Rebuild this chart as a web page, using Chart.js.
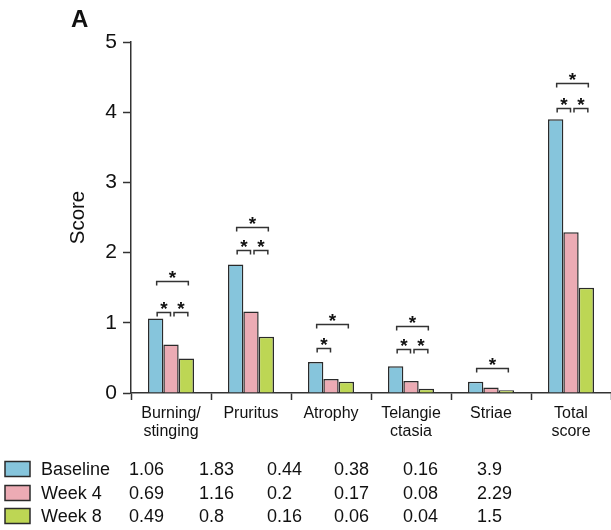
<!DOCTYPE html>
<html>
<head>
<meta charset="utf-8">
<script src="https://cdn.jsdelivr.net/npm/chart.js@4/dist/chart.umd.min.js"></script>
<style>
html,body{margin:0;padding:0;background:#fff;}
#wrap{width:611px;height:530px;position:relative;}
</style>
</head>
<body>
<div id="wrap"><canvas id="c" width="611" height="530"></canvas></div>
<script>
const categories = [["Burning/","stinging"],["Pruritus"],["Atrophy"],["Telangie","ctasia"],["Striae"],["Total","score"]];
const seriesNames = ["Baseline","Week 4","Week 8"];
const baseline = [1.06, 1.83, 0.44, 0.38, 0.16, 3.9];
const week4 = [0.69, 1.16, 0.2, 0.17, 0.08, 2.29];
const week8 = [0.49, 0.8, 0.16, 0.06, 0.04, 1.5];
const tableLabels = [
  ["1.06","1.83","0.44","0.38","0.16","3.9"],
  ["0.69","1.16","0.2","0.17","0.08","2.29"],
  ["0.49","0.8","0.16","0.06","0.04","1.5"]
];
const yTicks = [0,1,2,3,4,5];
// significance brackets: [category index, bar a, bar b, level (score units)]
const brackets = [
  [0,0,1,1.16],[0,1,2,1.16],[0,0,2,1.59],
  [1,0,1,2.03],[1,1,2,2.03],[1,0,2,2.36],
  [2,0,1,0.645],[2,0,2,0.99],
  [3,0,1,0.63],[3,1,2,0.63],[3,0,2,0.96],
  [4,0,2,0.35],
  [5,0,1,4.06],[5,1,2,4.06],[5,0,2,4.42]
];

const colors = ["#86c5dc","#ecabb4","#bdd654"];
const edge = "#2a2a2a";
const FONT = "'Liberation Sans', Arial, sans-serif";

const bracketPlugin = {
  id: 'brackets',
  afterDatasetsDraw(chart) {
    const ctx = chart.ctx;
    const y = chart.scales.y;
    ctx.save();
    ctx.strokeStyle = "#333";
    ctx.lineWidth = 1.5;
    ctx.fillStyle = "#111";
    ctx.font = "bold 19px " + FONT;
    ctx.textAlign = "center";
    ctx.textBaseline = "alphabetic";
    brackets.forEach(([c,a,b,lvl]) => {
      const xa = chart.getDatasetMeta(a).data[c].x;
      const xb = chart.getDatasetMeta(b).data[c].x;
      const big = (b - a) === 2;
      const x1 = big ? xa + 1 : xa + 1.5 + (a===1?1.5:0);
      const x2 = big ? xb + 2 : xb - 0.5 + (a===1?2:0);
      const py = Math.round(y.getPixelForValue(lvl)) + 0.5;
      ctx.beginPath();
      ctx.moveTo(x1, py + 4);
      ctx.lineTo(x1, py);
      ctx.lineTo(x2, py);
      ctx.lineTo(x2, py + 4);
      ctx.stroke();
      ctx.fillText("*", (x1 + x2) / 2, py + 2);
    });
    ctx.restore();
  }
};

const tablePlugin = {
  id: 'table',
  afterDraw(chart) {
    const ctx = chart.ctx;
    ctx.save();
    // panel letter
    ctx.fillStyle = "#111";
    ctx.font = "bold 24px " + FONT;
    ctx.textAlign = "left";
    ctx.textBaseline = "alphabetic";
    ctx.fillText("A", 71, 27);
    const rowsY = [469, 493, 516];
    const colX = [129, 199, 267, 334, 403, 477];
    ctx.font = "18px " + FONT;
    ctx.textBaseline = "middle";
    rowsY.forEach((ry, r) => {
      ctx.fillStyle = colors[r];
      ctx.fillRect(5, ry - 7.5, 25, 15);
      ctx.strokeStyle = edge;
      ctx.lineWidth = 1.5;
      ctx.strokeRect(5, ry - 7.5, 25, 15);
      ctx.fillStyle = "#111";
      ctx.fillText(seriesNames[r], 41, ry + 1);
      tableLabels[r].forEach((t, i) => ctx.fillText(t, colX[i], ry + 1));
    });
    ctx.restore();
  }
};

const data = {
  labels: categories,
  datasets: [baseline, week4, week8].map((d, i) => ({
    label: seriesNames[i],
    data: d,
    backgroundColor: colors[i],
    borderColor: edge,
    borderWidth: 1.5,
    barPercentage: 1,
    categoryPercentage: 0.575
  }))
};

new Chart(document.getElementById('c'), {
  type: 'bar',
  data,
  plugins: [bracketPlugin, tablePlugin],
  options: {
    responsive: false,
    devicePixelRatio: 1,
    animation: false,
    layout: { padding: { top: 42, left: 0, right: 0, bottom: 0 } },
    plugins: { legend: { display: false }, tooltip: { enabled: false } },
    scales: {
      x: {
        offset: true,
        grid: { display: true, drawOnChartArea: false, offset: true, tickLength: 7, tickColor: "#333", tickWidth: 1.5 },
        border: { color: "#333", width: 1.5 },
        ticks: { color: "#111", font: { family: FONT, size: 16, lineHeight: 1.17 }, padding: 4, maxRotation: 0, autoSkip: false },
        afterFit(s) { s.height = 137; }
      },
      y: {
        min: 0, max: 5,
        afterBuildTicks(s) { s.ticks = yTicks.map(v => ({ value: v })); },
        grid: { display: true, drawOnChartArea: false, tickLength: 8, tickColor: "#333", tickWidth: 1.5 },
        border: { color: "#333", width: 1.5 },
        ticks: { color: "#111", font: { family: FONT, size: 21 }, padding: 6 },
        title: { display: true, text: "Score", color: "#111", font: { family: FONT, size: 20.5 }, padding: { top: 66, bottom: 0 } },
        afterFit(s) { s.width = 131; }
      }
    }
  }
});
</script>
</body>
</html>
